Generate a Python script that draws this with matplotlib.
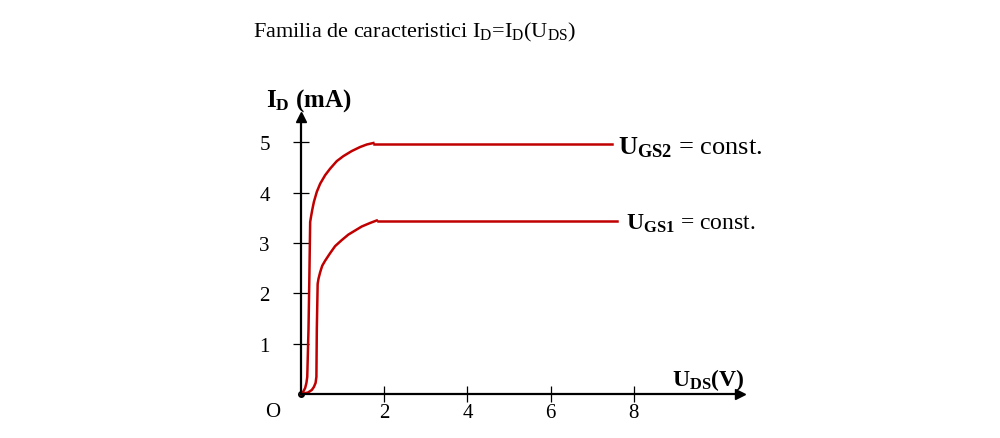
import matplotlib
matplotlib.use("Agg")
import matplotlib.pyplot as plt

plt.rcParams['font.family'] = 'Liberation Serif'
plt.rcParams['mathtext.fontset'] = 'custom'
plt.rcParams['mathtext.rm'] = 'Liberation Serif'
plt.rcParams['mathtext.bf'] = 'Liberation Serif:bold'
plt.rcParams['mathtext.it'] = 'Liberation Serif:italic'

# U_GS2 curve (upper): steep rise + knee, then the saturation line
ugs2_x = [0, 0.05, 0.10, 0.13, 0.15, 0.18, 0.20, 0.22, 0.24, 0.27, 0.31, 0.38, 0.46,
          0.58, 0.70, 0.86, 1.02, 1.22, 1.42, 1.58, 1.74]
ugs2_y = [0, 0.04, 0.12, 0.22, 0.34, 1.29, 2.29, 3.42, 3.52, 3.66, 3.82, 4.02, 4.18,
          4.35, 4.48, 4.63, 4.73, 4.83, 4.91, 4.96, 4.99]
ugs2_flat_x = [1.76, 7.48]
ugs2_flat_y = [4.98, 4.98]

# U_GS1 curve (lower)
ugs1_x = [0, 0.07, 0.17, 0.26, 0.31, 0.35, 0.37, 0.38, 0.40, 0.42, 0.46, 0.51, 0.58,
          0.70, 0.82, 0.98, 1.14, 1.30, 1.46, 1.66, 1.82]
ugs1_y = [0, 0.01, 0.03, 0.08, 0.14, 0.22, 0.34, 1.29, 2.19, 2.29, 2.42, 2.55, 2.65,
          2.80, 2.94, 3.06, 3.17, 3.25, 3.33, 3.40, 3.45]
ugs1_flat_x = [1.85, 7.60]
ugs1_flat_y = [3.44, 3.44]

x_ticks = [2, 4, 6, 8]
y_ticks = [1, 2, 3, 4, 5]

red = '#C00000'

fig = plt.figure(figsize=(10, 4.39), dpi=100)
ax = fig.add_axes([0, 0, 1, 1])
ax.set_xlim(-7.236, 16.803)
ax.set_ylim(-0.875, 7.853)
ax.patch.set_visible(False)

# axes through the origin, with arrow heads
for s in ['top', 'right']:
    ax.spines[s].set_visible(False)
ax.spines['left'].set_position(('data', 0))
ax.spines['bottom'].set_position(('data', 0))
ax.spines['left'].set_bounds(0, 5.45)
ax.spines['bottom'].set_bounds(0, 10.5)
ax.spines['left'].set_linewidth(1.6)
ax.spines['bottom'].set_linewidth(1.6)
ax.plot([0], [5.5], marker='^', color='black', markersize=7, clip_on=False)
ax.plot([10.55], [0], marker='>', color='black', markersize=7, clip_on=False)
ax.plot([0], [0], marker='o', color='black', markersize=4)

ax.set_xticks(x_ticks)
ax.set_yticks(y_ticks)
ax.tick_params(direction='inout', length=11, width=0.9, labelsize=15)
ax.tick_params(axis='x', pad=1)
ax.tick_params(axis='y', pad=17)

# characteristic curves
ax.plot(ugs2_x, ugs2_y, color=red, lw=1.8)
ax.plot(ugs2_flat_x, ugs2_flat_y, color=red, lw=1.8)
ax.plot(ugs1_x, ugs1_y, color=red, lw=1.8)
ax.plot(ugs1_flat_x, ugs1_flat_y, color=red, lw=1.8)

ax.text(7.62, 4.91, r'$\mathbf{U}_{\mathbf{GS2}}$ = const.', fontsize=19, va='center', ha='left')
ax.text(7.81, 3.40, r'$\mathbf{U}_{\mathbf{GS1}}$ = const.', fontsize=17, va='center', ha='left')
ax.text(8.92, 0.30, r'$\mathbf{U}_{\mathbf{DS}}\mathbf{(V)}$', fontsize=17, va='center', ha='left')
ax.text(-0.84, 5.86, r'$\mathbf{I}_{\mathbf{D}}$ (mA)', fontsize=18, fontweight='bold', va='center', ha='left')
ax.text(-0.67, -0.34, 'O', fontsize=15, va='center', ha='center')

fig.text(0.253, 0.927, r'Familia de caracteristici I$_{\mathrm{D}}$=I$_{\mathrm{D}}$(U$_{\mathrm{DS}}$)',
         fontsize=16, va='center', ha='left')

fig.savefig('out.png', dpi=100)
